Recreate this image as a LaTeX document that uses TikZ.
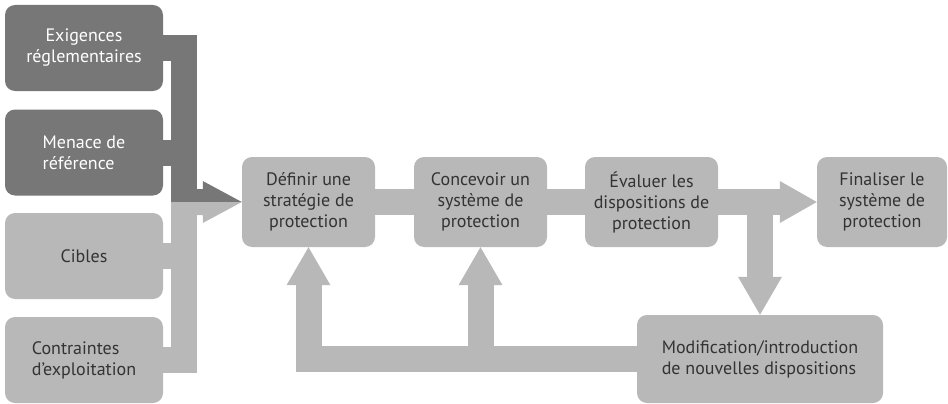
\documentclass[tikz,border=0pt]{standalone}
\usepackage{fontspec}
\setmainfont{PT Sans}
\usetikzlibrary{calc}
\definecolor{boxdark}{HTML}{777777}
\definecolor{boxlight}{HTML}{B8B8B8}
\definecolor{txt}{HTML}{333333}

\begin{document}
\begin{tikzpicture}[x=1pt,y=-1pt,
  box/.style={rounded corners=10pt, inner sep=0pt, font=\fontsize{18}{21}\selectfont},
  darkbox/.style={box, fill=boxdark, text=white},
  lightbox/.style={box, fill=boxlight, text=txt},
  sidebox/.style={minimum width=158pt, minimum height=86pt},
  stepbox/.style={lightbox, align=center, minimum width=133pt, minimum height=90pt},
  darkbar/.style={draw=boxdark, line width=26pt, line join=miter},
  lightbar/.style={draw=boxlight, line width=26pt, line join=miter},
]
\useasboundingbox (0,0) rectangle (948,404);

% inputs on the left
\node[darkbox, sidebox, align=center] (L1) at (84,48) {Exigences\\réglementaires};
\node[darkbox, sidebox, align=left] (L2) at (84,152.5) {Menace de\\référence};
\node[lightbox, sidebox, align=center] (L3) at (84,256) {Cibles};
\node[lightbox, sidebox, align=left] (L4) at (84,360) {Contraintes\\d’exploitation};

% main sequence
\node[stepbox] (D) at (308.5,202) {Définir une\\stratégie de\\protection};
\node[stepbox] (C) at (480.5,202) {Concevoir un\\système de\\protection};
\node[stepbox] (E) at (651.5,202) {Évaluer les\\dispositions de\\protection};
\node[stepbox, minimum width=130pt] (F) at (882,202) {Finaliser le\\système de\\protection};
\node[lightbox, align=left, minimum width=246pt, minimum height=88pt] (M) at (760,359)
  {Modification/introduction\\de nouvelles dispositions};

% collector joining the inputs
\coordinate (jn) at (184,202);
\draw[darkbar] (L1.east) -| (jn);
\draw[darkbar] (L2.east) -- (L2.east -| jn);
\draw[lightbar] (L4.east) -| (jn);
\draw[lightbar] (L3.east) -- (L3.east -| jn);
% two-tone arrow into the first step
\fill[boxdark] ($(jn)+(13,-13)$) -- ($(D.west)+(-39,-13)$) -- ($(D.west)+(-39,-21)$)
  -- (D.west) -- ($(jn)+(13,0)$) -- cycle;
\fill[boxlight] ($(jn)+(13,13)$) -- ($(D.west)+(-39,13)$) -- ($(D.west)+(-39,21)$)
  -- (D.west) -- ($(jn)+(13,0)$) -- cycle;

% links between steps
\draw[lightbar] (D.east) -- (C.west);
\draw[lightbar] (C.east) -- (E.west);
\draw[lightbar] (E.east) -- ($(F.west)+(-37,0)$);
\fill[boxlight] ($(F.west)+(-37,-21)$) -- (F.west) -- ($(F.west)+(-37,21)$) -- cycle;

% branch down to the modification step
\draw[lightbar] (M.north |- E.east) -- ($(M.north)+(0,-38)$);
\fill[boxlight] ($(M.north)+(-22,-38)$) -- (M.north) -- ($(M.north)+(22,-38)$) -- cycle;

% feedback loop
\draw[lightbar] (M.west) -| ($(D.south)+(0,38)$);
\fill[boxlight] ($(D.south)+(-22,38)$) -- (D.south) -- ($(D.south)+(22,38)$) -- cycle;
\draw[lightbar] (C.south |- M.west) -- ($(C.south)+(0,38)$);
\fill[boxlight] ($(C.south)+(-22,38)$) -- (C.south) -- ($(C.south)+(22,38)$) -- cycle;
\end{tikzpicture}
\end{document}
